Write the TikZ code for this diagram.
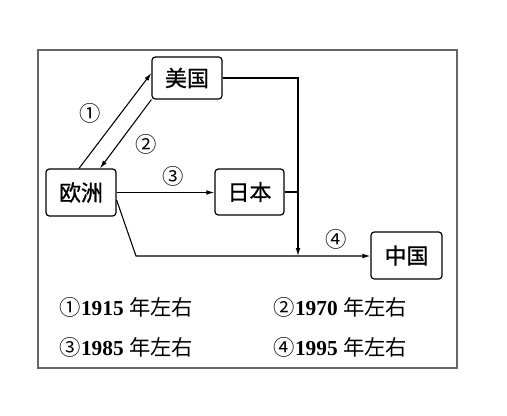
\documentclass[tikz,border=0pt]{standalone}
\usepackage{fontspec}
\setmainfont{Liberation Serif}
\newfontfamily\cjk[FakeBold=1]{Noto Sans CJK SC}
\newfontfamily\cjkc{Noto Sans CJK SC}
\usetikzlibrary{arrows.meta,calc}
\tikzset{
  box/.style={draw, rounded corners=2.5pt, line width=0.9pt, inner sep=0pt, font=\cjk\fontsize{16.5}{16.5}\selectfont},
  link/.style={line width=0.8pt},
  arr/.style={link, -{Latex[length=6pt,width=3.5pt]}},
  num/.style={font=\cjkc\fontsize{16}{16}\selectfont},
  note/.style={anchor=west, font=\fontsize{16}{16}\selectfont\bfseries}
}
\begin{document}
\begin{tikzpicture}[x=0.75pt,y=-0.75pt]
\useasboundingbox (0,0) rectangle (507,415);
\node[draw=gray!80!black, line width=1.1pt, minimum width=419*0.75pt, minimum height=318*0.75pt, inner sep=0pt] (frame) at (247.5,209) {};
\node[box, minimum width=70*0.75pt, minimum height=42*0.75pt] (mg) at (187,78) {美国};
\node[box, minimum width=70*0.75pt, minimum height=47*0.75pt] (oz) at (81,192.5) {欧洲};
\node[box, minimum width=69*0.75pt, minimum height=46*0.75pt] (rb) at (249.5,192) {日本};
\node[box, minimum width=71*0.75pt, minimum height=47*0.75pt] (zg) at (406.5,255.5) {中国};
\coordinate (j) at (298,256);
\coordinate (k) at (136,256);
\draw[arr] ($(oz.north)+(-2,0)$) -- ($(mg.west)+(0,-5)$);
\draw[arr] (mg.south west) -- ($(oz.north)+(19,0)$);
\draw[arr] (oz.east) -- (rb.west |- oz.east);
\draw[arr] (mg.east) -| (j);
\draw[link] (rb.east) -- (rb.east -| j);
\draw[arr] ($(oz.east)+(0,7.5)$) -- (k) -- (zg.west |- k);
\node[num] (n1) at (90,113) {①};
\node[num] (n2) at (146,144) {②};
\node[num] (n3) at (173,176) {③};
\node[num] (n4) at (336,239) {④};
\node[note] (t1) at (55,307) {{\cjkc\mdseries ①}1915 {\cjkc\mdseries 年左右}};
\node[note] (t2) at (269,307) {{\cjkc\mdseries ②}1970 {\cjkc\mdseries 年左右}};
\node[note] (t3) at (55,347) {{\cjkc\mdseries ③}1985 {\cjkc\mdseries 年左右}};
\node[note] (t4) at (269,347) {{\cjkc\mdseries ④}1995 {\cjkc\mdseries 年左右}};
\end{tikzpicture}
\end{document}
